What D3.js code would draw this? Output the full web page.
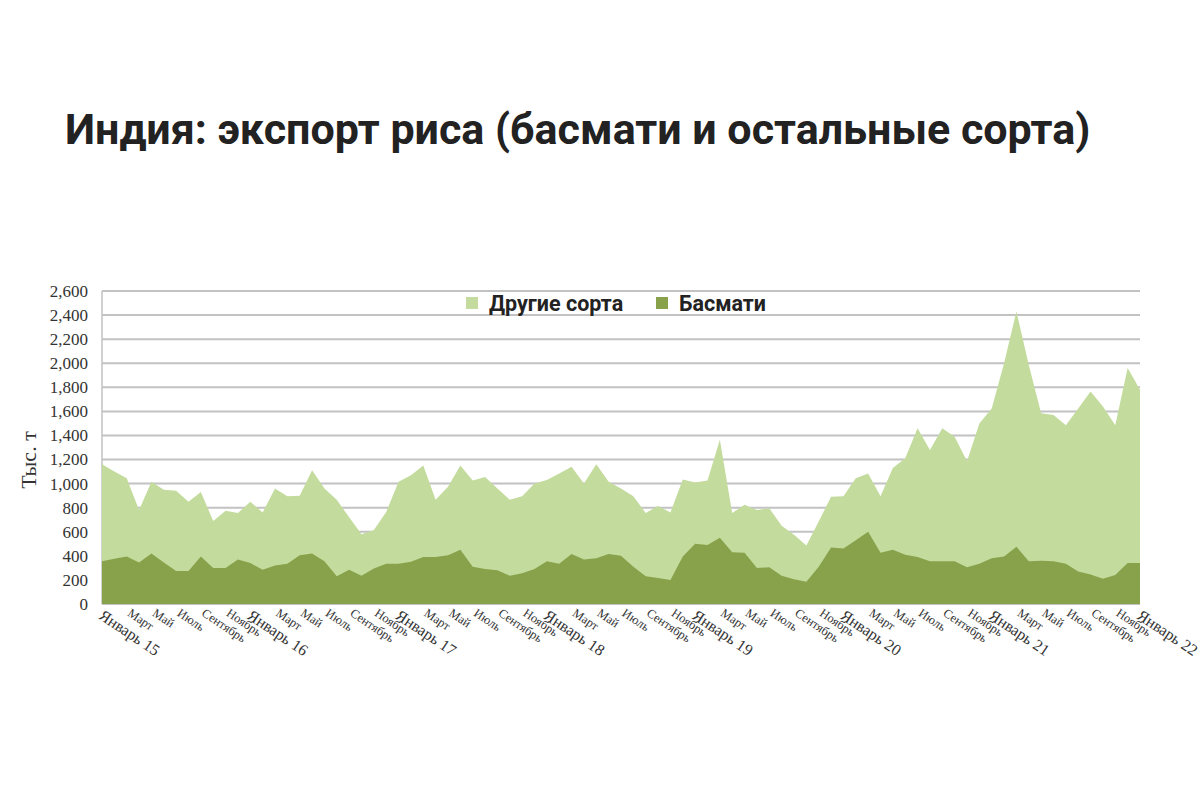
<!DOCTYPE html>
<html lang="ru">
<head>
<meta charset="utf-8">
<script src="https://cdn.jsdelivr.net/npm/d3@7"></script>
<style>
    body { margin: 0; background: #fff; }
    #chart { width: 1200px; height: 800px; }
</style>
</head>
<body>
<div id="chart"></div>
<script>
// monthly values, thousand tonnes, Jan 2015 .. Jan 2022
const totalExport = [
    1160, 1100, 1045, 780, 1015, 950, 940, 850, 930, 690, 775, 755,
    850, 760, 960, 895, 900, 1110, 960, 865, 720, 580, 615, 765,
    1015, 1070, 1150, 865, 975, 1150, 1025, 1055, 960, 865, 895, 1000,
    1030, 1085, 1140, 1000, 1160, 1015, 960, 895, 755, 815, 760, 1035,
    1010, 1025, 1365, 755, 825, 780, 795, 650, 575, 485, 685, 890,
    895, 1045, 1085, 895, 1130, 1210, 1460, 1280, 1460, 1390, 1185, 1500,
    1625, 2000, 2430, 1985, 1585, 1570, 1485, 1625, 1765, 1640, 1485, 1960,
    1780
];
const basmati = [
    355, 375, 395, 345, 420, 345, 275, 275, 395, 300, 300, 370,
    340, 285, 320, 335, 405, 420, 355, 230, 285, 235, 295, 335,
    335, 350, 390, 390, 405, 450, 310, 290, 280, 235, 255, 290,
    355, 335, 415, 370, 380, 415, 400, 310, 230, 215, 200, 395,
    500, 490, 550, 430, 425, 300, 305, 235, 205, 185, 310, 470,
    460, 530, 600, 425, 450, 410, 390, 355, 355, 355, 305, 335,
    380, 395, 475, 355, 360, 355, 335, 270, 245, 210, 240, 340,
    340
];
const monthLabels = ["Январь", "Март", "Май", "Июль", "Сентябрь", "Ноябрь"];
const yearLabels = ["15", "16", "17", "18", "19", "20", "21", "22"];
const yTicks = [0, 200, 400, 600, 800, 1000, 1200, 1400, 1600, 1800, 2000, 2200, 2400, 2600];
const seriesNames = ["Другие сорта", "Басмати"];

const colors = {light: "#c3db9d", dark: "#87a24b", grid: "#c2c2c2"};

let margin = {top: 291, right: 60, bottom: 196, left: 102};
let width = 1200 - margin.left - margin.right;
let height = 800 - margin.top - margin.bottom;

let svg = d3.select("#chart").append("svg")
    .attr("width", 1200)
    .attr("height", 800);

svg.append("text")
    .attr("x", 65)
    .attr("y", 144)
    .style("font-family", "Roboto")
    .style("font-weight", "bold")
    .style("font-size", "43px")
    .style("fill", "#222")
    .text("Индия: экспорт риса (басмати и остальные сорта)");

let g = svg.append("g")
    .attr("transform", "translate(" + margin.left + "," + margin.top + ")");

let data = totalExport.map((t, i) => ({i: i, total: t, basmati: basmati[i]}));

let xScale = d3.scaleLinear()
    .domain([0, data.length - 1])
    .range([0, width]);

let yScale = d3.scaleLinear()
    .domain([0, 2600])
    .range([height, 0]);

// gridlines
g.selectAll(".grid")
    .data(yTicks)
    .enter().append("line")
    .attr("class", "grid")
    .attr("x1", 0)
    .attr("x2", width)
    .attr("y1", d => yScale(d))
    .attr("y2", d => yScale(d))
    .style("stroke", colors.grid)
    .style("stroke-width", 2);

g.append("line")
    .attr("x1", 0).attr("x2", 0)
    .attr("y1", 0).attr("y2", height)
    .style("stroke", colors.grid)
    .style("stroke-width", 1.5);

// areas
let totalArea = d3.area()
    .x(d => xScale(d.i))
    .y0(yScale(0))
    .y1(d => yScale(d.total));

let basmatiArea = d3.area()
    .x(d => xScale(d.i))
    .y0(yScale(0))
    .y1(d => yScale(d.basmati));

g.append("path")
    .datum(data)
    .attr("d", totalArea)
    .style("fill", colors.light);

g.append("path")
    .datum(data)
    .attr("d", basmatiArea)
    .style("fill", colors.dark);

// y axis
let yAxis = d3.axisLeft(yScale)
    .tickValues(yTicks)
    .tickSize(0)
    .tickPadding(14)
    .tickFormat(d3.format(","));

let yAxisGroup = g.append("g")
    .attr("class", "y-axis")
    .call(yAxis);
yAxisGroup.select(".domain").remove();
yAxisGroup.selectAll("text")
    .style("font-family", "Liberation Serif")
    .style("font-size", "17px")
    .style("fill", "#333");

svg.append("text")
    .attr("transform", "translate(36,460) rotate(-90)")
    .attr("text-anchor", "middle")
    .style("font-family", "Liberation Serif")
    .style("font-size", "22px")
    .style("fill", "#333")
    .text("Тыс. т");

// x labels, every second month
let xTicks = [];
yearLabels.forEach((y, yi) => {
    monthLabels.forEach((m, mi) => {
        let idx = yi * 12 + mi * 2;
        if (idx < data.length) {
            xTicks.push({i: idx, label: mi === 0 ? m + " " + y : m, jan: mi === 0});
        }
    });
});

g.selectAll(".x-label")
    .data(xTicks)
    .enter().append("text")
    .attr("class", "x-label")
    .attr("transform", d => "translate(" + (xScale(d.i) - (d.jan ? 4 : 0)) + "," + (height + (d.jan ? 14 : 11)) + ") rotate(34)")
    .attr("text-anchor", "start")
    .style("font-family", "Liberation Serif")
    .style("font-size", d => d.jan ? "16px" : "12.5px")
    .style("fill", "#333")
    .text(d => d.label);

// legend
let legend = svg.append("g")
    .attr("class", "legend")
    .attr("transform", "translate(466,303)");

let legendX = [0, 190];
seriesNames.forEach((name, i) => {
    legend.append("rect")
        .attr("x", legendX[i])
        .attr("y", -6)
        .attr("width", 12)
        .attr("height", 12)
        .style("fill", i === 0 ? colors.light : colors.dark);
    legend.append("text")
        .attr("x", legendX[i] + 23)
        .attr("y", 8)
        .style("font-family", "Roboto")
        .style("font-weight", "bold")
        .style("font-size", "21.5px")
        .style("fill", "#222")
        .text(name);
});
</script>
</body>
</html>
